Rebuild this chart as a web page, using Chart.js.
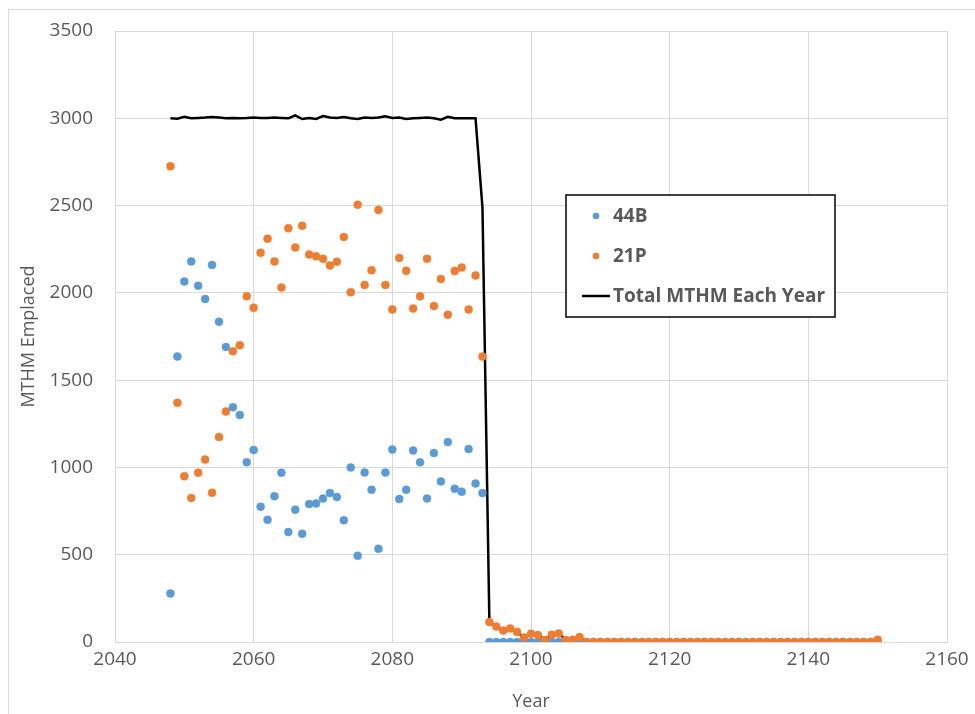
<!DOCTYPE html>
<html>

<head>
    <meta charset="UTF-8">
    <title>MTHM Emplaced</title>
    <script src="https://cdn.jsdelivr.net/npm/chart.js"></script>
    <style>
        body { margin: 0; background: #ffffff; }
    </style>
</head>

<body>
    <canvas id="myChart" width="975" height="714"></canvas>

    <script>
    'use strict';

    // emplacement years, one point per year
    const firstYear = 2048;
    const lastYear = 2150;

    const xTicks = [2040, 2060, 2080, 2100, 2120, 2140, 2160];
    const yTicks = [0, 500, 1000, 1500, 2000, 2500, 3000, 3500];

    // MTHM of 44B per year, 2048 .. 2150
    const mthm44B = [
        278, 1635, 2065, 2180, 2040, 1965, 2160, 1835, 1690, 1345,
        1300, 1030, 1100, 775, 700, 835, 970, 630, 758, 620,
        790, 794, 822, 853, 830, 697, 1000, 494, 971, 872,
        534, 971, 1103, 819, 872, 1097, 1029, 822, 1082, 920,
        1145, 878, 861, 1105, 908, 853,
        0, 0, 0, 0, 0, 0, 0, 0, 0, 0, 0, 0, 0, 0,
        0, 0, 0, 0, 0, 0, 0, 0, 0, 0, 0, 0, 0, 0,
        0, 0, 0, 0, 0, 0, 0, 0, 0, 0, 0, 0, 0, 0,
        0, 0, 0, 0, 0, 0, 0, 0, 0, 0, 0, 0, 0, 0, 0
    ];

    // MTHM of 21P per year, 2048 .. 2150
    const mthm21P = [
        2725, 1370, 950, 825, 970, 1045, 855, 1175, 1320, 1665,
        1700, 1980, 1915, 2230, 2310, 2180, 2030, 2370, 2260, 2385,
        2220, 2210, 2195, 2157, 2178, 2320, 2004, 2505, 2045, 2130,
        2475, 2045, 1905, 2200, 2127, 1910, 1980, 2195, 1925, 2080,
        1875, 2125, 2145, 1905, 2100, 1635,
        114, 89, 66, 78, 57, 26, 47, 40, 11, 42, 49, 11, 13, 28,
        0, 0, 0, 0, 0, 0, 0, 0, 0, 0, 0, 0, 0, 0,
        0, 0, 0, 0, 0, 0, 0, 0, 0, 0, 0, 0, 0, 0,
        0, 0, 0, 0, 0, 0, 0, 0, 0, 0, 0, 0, 0, 0, 13
    ];

    // total MTHM each year, 2048 .. 2150
    const mthmTotal = [
        3000, 2998, 3008, 3000, 3002, 3004, 3008, 3004, 3000, 3002,
        3000, 3002, 3005, 3002, 3002, 3004, 3002, 3000, 3017, 2996,
        3002, 2996, 3013, 3005, 3002, 3007, 3000, 2996, 3005, 3002,
        3004, 3011, 3002, 3005, 2996, 3000, 3002, 3004, 3000, 2992,
        3008, 3000, 3000, 3000, 3000, 2488,
        114, 89, 66, 78, 57, 26, 47, 40, 11, 42, 49, 11, 13, 28,
        0, 0, 0, 0, 0, 0, 0, 0, 0, 0, 0, 0, 0, 0,
        0, 0, 0, 0, 0, 0, 0, 0, 0, 0, 0, 0, 0, 0,
        0, 0, 0, 0, 0, 0, 0, 0, 0, 0, 0, 0, 0, 0, 13
    ];

    const seriesNames = ['44B', '21P', 'Total MTHM Each Year'];
    const seriesColors = ['#5B9BD5', '#ED7D31', '#000000'];

    const textColor = '#595959';
    const gridColor = '#d9d9d9';
    const fontFamily = "'Open Sans', 'Noto Sans', sans-serif";

    function toPoints(values) {
        let pts = [];
        for (var i = 0; i < values.length; i++) {
            pts.push({ x: firstYear + i, y: values[i] });
        }
        return pts;
    }

    // white page and thin grey frame round the chart
    const framePlugin = {
        id: 'frame',
        beforeDraw(chart) {
            const ctx = chart.ctx;
            ctx.save();
            ctx.fillStyle = '#ffffff';
            ctx.fillRect(0, 0, chart.width, chart.height);
            ctx.strokeStyle = gridColor;
            ctx.lineWidth = 1;
            ctx.strokeRect(8.5, 9.5, chart.width + 20, chart.height + 20);
            ctx.restore();
        }
    };

    // boxed legend sitting inside the plot
    const boxLegendPlugin = {
        id: 'boxLegend',
        afterDraw(chart) {
            const ctx = chart.ctx;
            const left = 566, top = 195, w = 269, h = 122;
            ctx.save();
            ctx.fillStyle = '#ffffff';
            ctx.fillRect(left, top, w, h);
            ctx.strokeStyle = '#000000';
            ctx.lineWidth = 1.5;
            ctx.strokeRect(left, top, w, h);

            ctx.font = 'bold 19px ' + fontFamily;
            ctx.textBaseline = 'middle';
            ctx.textAlign = 'left';
            for (var i = 0; i < seriesNames.length; i++) {
                const y = top + 21 + i * 40;
                if (i < 2) {
                    ctx.fillStyle = seriesColors[i];
                    ctx.beginPath();
                    ctx.arc(left + 30, y, 3.3, 0, Math.PI * 2);
                    ctx.fill();
                } else {
                    ctx.strokeStyle = seriesColors[i];
                    ctx.lineWidth = 2.5;
                    ctx.beginPath();
                    ctx.moveTo(left + 16, y);
                    ctx.lineTo(left + 44, y);
                    ctx.stroke();
                }
                ctx.fillStyle = textColor;
                ctx.fillText(seriesNames[i], left + 47, y + 1);
            }
            ctx.restore();
        }
    };

    const ctx = document.getElementById('myChart');
    new Chart(ctx, {
        type: 'scatter',
        data: {
            datasets: [{
                label: seriesNames[0],
                data: toPoints(mthm44B),
                backgroundColor: seriesColors[0],
                borderColor: seriesColors[0],
                pointRadius: 4,
                pointBorderWidth: 0.5,
                order: 2
            }, {
                label: seriesNames[1],
                data: toPoints(mthm21P),
                backgroundColor: seriesColors[1],
                borderColor: seriesColors[1],
                pointRadius: 4,
                pointBorderWidth: 0.5,
                order: 1
            }, {
                label: seriesNames[2],
                data: toPoints(mthmTotal),
                showLine: true,
                borderColor: seriesColors[2],
                backgroundColor: seriesColors[2],
                borderWidth: 2.5,
                pointRadius: 0,
                tension: 0,
                order: 3
            }]
        },
        options: {
            responsive: false,
            animation: false,
            devicePixelRatio: 1,
            layout: { padding: { top: 31, right: 28, left: 0, bottom: 0 } },
            plugins: {
                legend: { display: false },
                tooltip: { enabled: false }
            },
            scales: {
                x: {
                    type: 'linear',
                    min: xTicks[0],
                    max: xTicks[xTicks.length - 1],
                    afterBuildTicks: function (scale) {
                        scale.ticks = xTicks.map(v => ({ value: v }));
                    },
                    afterFit: function (scale) { scale.height = 72; },
                    ticks: {
                        callback: v => String(v),
                        color: textColor,
                        font: { family: fontFamily, size: 19 },
                        padding: 6,
                        maxRotation: 0
                    },
                    grid: { color: gridColor, drawTicks: false },
                    border: { color: gridColor },
                    title: {
                        display: true,
                        text: 'Year',
                        color: textColor,
                        font: { family: fontFamily, size: 18 },
                        padding: { top: 0, bottom: 1 }
                    }
                },
                y: {
                    min: yTicks[0],
                    max: yTicks[yTicks.length - 1],
                    afterBuildTicks: function (scale) {
                        scale.ticks = yTicks.map(v => ({ value: v }));
                    },
                    afterFit: function (scale) {
                        scale.width = 115;
                        scale.paddingTop = 0;
                        scale.paddingBottom = 0;
                    },
                    ticks: {
                        callback: v => String(v),
                        color: textColor,
                        font: { family: fontFamily, size: 19 },
                        padding: 22
                    },
                    grid: { color: gridColor, drawTicks: false },
                    border: { color: gridColor },
                    title: {
                        display: true,
                        text: 'MTHM Emplaced',
                        color: textColor,
                        font: { family: fontFamily, size: 18 },
                        padding: { top: 18, bottom: 0 }
                    }
                }
            }
        },
        plugins: [framePlugin, boxLegendPlugin]
    });
    </script>
</body>

</html>
